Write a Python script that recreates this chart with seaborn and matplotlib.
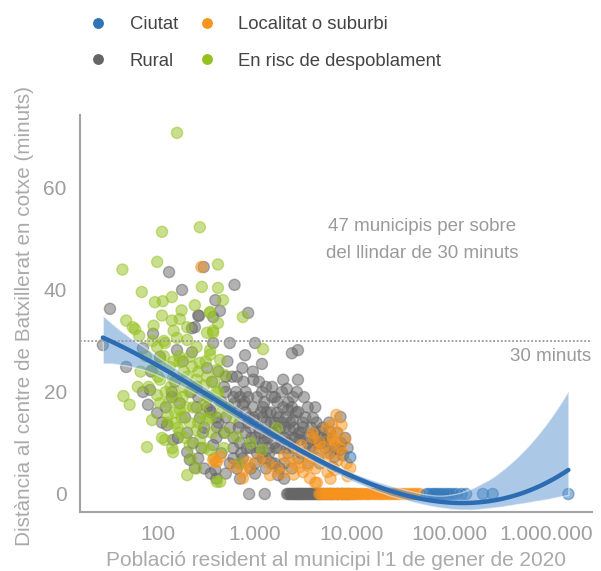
import numpy as np
import pandas as pd
import matplotlib.pyplot as plt
import seaborn as sns
from matplotlib.lines import Line2D

# --- Data: population (1 Jan 2020) and minutes by car ---
rural_pop = [32, 130, 177, 615, 296, 390, 435, 265, 850, 89,
             224, 27, 47, 550, 1000, 2400, 2770, 790, 1180, 740,
             1950, 2770, 1500, 2130, 2460, 4180, 1500, 960, 7600, 70,
             260, 240, 105, 157, 224, 370, 370, 83, 139, 250,
             320, 79, 98, 124, 139, 168, 143, 200, 240, 213,
             290, 370, 270, 344, 405, 390, 3960, 5900, 4650, 2190,
             2460, 3130, 2770, 1680, 1210, 750, 620, 960, 2300, 2900,
             5900, 7400, 8100, 6600, 6300, 4650, 1730, 450, 500, 550,
             600, 650, 700, 800, 850, 900, 1000, 1100, 1200, 1300,
             1400, 1500, 1600, 1800, 2000, 2200, 2500, 2800, 3000, 3500,
             4000, 4500, 5000, 5500, 400, 450, 500, 550, 600, 650,
             700, 750, 800, 900, 1000, 1100, 1200, 1300, 1400, 1600,
             1800, 2000, 2200, 2500, 3000, 3500, 4000, 300, 330, 360,
             420, 480, 520, 580, 640, 700, 760, 820, 880, 950,
             1050, 1150, 1250, 1350, 1450, 1700, 1900, 2100, 2400, 2600,
             3300, 3800, 4300, 5000, 6000, 7000, 8500, 9000,
             110, 150, 180, 120, 200, 220, 250, 280, 85, 70,
             160, 190, 230, 260, 300, 350, 400, 500, 700, 1000,
             1300, 1600, 2000, 2400, 870, 1260, 2140, 2300, 2450, 2600,
             2750, 2900, 3050, 3200, 3400, 3600, 3800, 4000, 4300, 4600,
             5000, 5500, 6000, 6500, 7200, 8000, 9000, 10500,
             350, 420, 480, 530, 600, 680, 720, 780, 850, 920,
             980, 1050, 1120, 1180, 1250, 1320, 1380, 1450, 1550, 1650,
             1750, 1850, 1950, 2050, 2150, 2300, 2450, 2650, 2850, 3100,
             3400, 3700, 4100, 4500, 4900, 5300, 2200, 1900, 1600, 1300,
             1100, 950, 800, 650, 500, 400, 320, 260, 3200, 2700,
             3500, 5800, 6800, 7700, 1200, 1500, 1800, 900, 700, 600,
             2200, 2350, 2500, 2650, 2800, 2950, 3100, 3300, 3500, 3700,
             3900, 4200, 4500, 4800, 5200, 5700, 6200, 7000, 7800, 8500, 9500]
rural_min = [36.3, 43.5, 40, 41, 44.5, 38, 35.9, 34.9, 35.5, 31.4,
             32.5, 29.2, 24.9, 29.6, 29.6, 27.6, 28.2, 27.2, 25.5, 24.7,
             22.4, 22.4, 21, 20.6, 19, 17, 19, 22.4, 15.1, 28.6,
             35, 32.7, 26.9, 28.2, 27.8, 29.6, 34.7, 20.4, 20, 21,
             24.7, 17.5, 15.9, 13.5, 19, 17.8, 10.6, 8.2, 5.1, 6.7,
             12, 9.6, 14.9, 16.5, 13.1, 4.7, 14.9, 12.2, 12.2, 16.5,
             14.5, 13.1, 16.1, 15.9, 17, 17.5, 17.8, 14.5, 12.5, 10.6,
             8, 8.6, 7.6, 7.3, 5.3, 6, 3.7, 18, 15, 13,
             11, 16, 14, 12, 19, 9, 11, 13, 10, 14,
             8, 12, 10, 9, 11, 8, 9, 7, 12, 10,
             9, 7, 10, 11, 11, 8, 20, 6, 9, 5,
             10, 7, 16, 13, 6, 9, 15, 7, 12, 14,
             13, 6, 10, 13, 8, 6, 11, 13, 19, 22,
             24, 21, 26, 23, 20, 19, 22, 9, 15, 17,
             19, 16, 18, 11, 16, 18, 14, 15, 17, 11,
             15, 13, 14, 13, 10, 12, 11, 9,
             14, 22, 26, 17, 12, 20, 17, 9, 24, 20,
             11, 15, 10, 7, 5, 4, 3, 4, 3, 4,
             5, 6, 3, 5, 0, 0, 0, 0, 0, 0,
             0, 0, 0, 0, 0, 0, 0, 0, 0, 0,
             0, 0, 0, 0, 0, 0, 0, 0,
             16, 14, 12, 17, 19, 13, 8, 18, 14, 11,
             15, 8, 12, 20, 11, 16, 9, 14, 12, 9,
             15, 11, 17, 13, 9, 14, 11, 16, 12, 14,
             11, 9, 12, 10, 11, 9, 18, 20, 19, 21,
             22, 24, 20, 23, 23, 15, 17, 19, 19, 20,
             17, 14, 9, 10, 7, 6, 5, 5, 6, 7,
             0, 0, 0, 0, 0, 0, 0, 0, 0, 0,
             0, 0, 0, 0, 0, 0, 0, 0, 0, 0, 0]

risc_pop = [157, 110, 270, 43, 98, 415, 283, 415, 68, 93,
            112, 139, 468, 47, 168, 344, 415, 750, 55, 1210,
            58, 64, 110, 139, 200, 98, 118, 157, 200, 250,
            320, 370, 105, 132, 168, 213, 270, 344, 87, 105,
            143, 181, 250, 320, 405, 62, 44, 51, 77, 87,
            118, 200, 405, 98, 105, 150, 168, 213, 143, 250,
            320, 126, 168, 213, 270, 344, 650, 1180, 1680, 437,
            344, 437, 490, 300, 75, 80,
            120, 130, 150, 180, 200, 230, 260, 300, 350, 400,
            450, 500, 600, 110, 140, 160, 190, 220, 250,
            300, 380, 480, 700, 900, 344, 370, 380, 420,
            66, 88, 100, 115, 125, 135, 145,
            155, 165, 175, 185, 195, 210, 225, 240, 260, 280,
            310, 330, 360, 430, 520, 145, 175, 115, 90, 240]
risc_min = [70.8, 51.4, 52.3, 44, 45.5, 45, 40.6, 40.4, 39.6, 37.6,
            37.8, 38.6, 38, 34, 34.3, 35.7, 33.5, 34.7, 32.7, 28.4,
            32.3, 31, 35, 34, 32.7, 28.8, 29.6, 30.6, 30.2, 28.8,
            31.6, 32, 26.3, 24.9, 25.9, 26.9, 25.7, 27.3, 24.3, 22.4,
            22.7, 21, 22.4, 23, 24.3, 21, 19.2, 17.5, 9.2, 14.5,
            10.6, 3.7, 2.4, 19.4, 17.8, 13.9, 12, 9.6, 8.2, 12.5,
            14.5, 15.5, 16.5, 13.9, 10.6, 8.6, 11.2, 8.6, 12.9, 2.4,
            28.2, 26.3, 23.3, 21.3, 27, 21,
            20, 18, 16, 19, 23, 17, 14, 18, 15, 20,
            16, 12, 15, 11, 9, 13, 11, 7, 5,
            9, 7, 9, 6, 10, 35.5, 31.6, 22, 20,
            24, 30, 23, 27, 14, 21, 26,
            19, 27, 15, 24, 17, 20, 25, 21, 24, 16,
            26, 19, 12, 18, 17, 32, 36, 30, 33, 37]

loc_pop = [280, 390, 370, 750, 890, 1360, 1680, 2300, 2900, 3130,
           3680, 4350, 5000, 5200, 6300, 7100, 6900, 5600, 9600, 3680,
           4350, 437, 830, 1430, 750, 2700, 4650, 405, 6300, 6600,
           4180, 8500, 7800, 5500, 4000, 3000, 2000, 1100, 600, 6600,
           3500, 2500, 6000, 7000, 8000, 4600, 5000, 5500, 6000, 6600,
           7200, 7800, 8500, 9200, 10000, 11000, 12000, 13000, 14500, 16000,
           18000, 20000, 22000, 25000, 28000, 32000, 36000, 42000, 50000,
           3300, 4200, 5800, 7500, 8800, 2600, 1900, 3900, 6200, 9000,
           4800, 5300, 5800, 6300, 7000, 7500, 8200, 9000, 9800, 10500,
           11500, 12500, 14000, 15000, 17000, 19000, 21000, 24000, 27000, 30000,
           34000, 39000, 44000, 47000]
loc_min = [44.5, 6.3, 6.7, 4.3, 5.1, 6.1, 5.1, 6.3, 5.3, 4.3,
           7.1, 8.6, 9.2, 6.7, 10.6, 12, 15.5, 4.3, 5.1, 3.1,
           2.2, 7.3, 6.3, 3.7, 3.1, 8.6, 10.2, 6.3, 11.2, 10,
           2.2, 10.6, 13.5, 13, 11, 9.5, 7.5, 6.8, 5.5, 4.7,
           5.5, 3.8, 3, 6.5, 8, 0, 0, 0, 0, 0,
           0, 0, 0, 0, 0, 0, 0, 0, 0, 0,
           0, 0, 0, 0, 0, 0, 0, 0, 0,
           7.5, 5, 8, 9, 6, 6, 4, 12, 13.5, 3.5,
           0, 0, 0, 0, 0, 0, 0, 0, 0, 0,
           0, 0, 0, 0, 0, 0, 0, 0, 0, 0,
           0, 0, 0, 0]

ciutat_pop = [9600, 59000, 63000, 68000, 72000, 77000, 82000, 88000, 95000,
              102000, 110000, 120000, 135000, 150000, 224000, 282000, 1700000]
ciutat_min = [7.2, 0, 0, 0, 0, 0, 0, 0, 0,
              0, 0, 0, 0, 0, 0, 0, 0]

colors = {"Ciutat": "#2e75b6", "Localitat o suburbi": "#f7941d",
          "Rural": "#666666", "En risc de despoblament": "#95c11f"}
legend_order = ["Ciutat", "Rural", "Localitat o suburbi", "En risc de despoblament"]

x_ticks = [2, 3, 4, 5, 6]
x_tick_labels = ["100", "1.000", "10.000", "100.000", "1.000.000"]
y_ticks = [0, 20, 40, 60]
threshold = 30

# drawing order: rural, at-risk, towns, cities
df = pd.concat([
    pd.DataFrame({"pop": rural_pop, "minuts": rural_min, "tipus": "Rural"}),
    pd.DataFrame({"pop": risc_pop, "minuts": risc_min, "tipus": "En risc de despoblament"}),
    pd.DataFrame({"pop": loc_pop, "minuts": loc_min, "tipus": "Localitat o suburbi"}),
    pd.DataFrame({"pop": ciutat_pop, "minuts": ciutat_min, "tipus": "Ciutat"}),
], ignore_index=True)
df["log_pop"] = np.log10(df["pop"])

sns.set_style("white")
plt.rcParams['font.family'] = ['Liberation Sans', 'DejaVu Sans']

fig = plt.figure(figsize=(6.01, 5.71), dpi=100)
ax = fig.add_axes([80 / 601, 1 - 512 / 571, 512 / 601, 397 / 571])

sns.scatterplot(data=df, x="log_pop", y="minuts", hue="tipus", palette=colors,
                s=64, alpha=0.5, edgecolor="face", linewidth=1.0, legend=False, ax=ax)

# smooth trend with confidence band
sns.regplot(data=df, x="log_pop", y="minuts", order=3, scatter=False, ci=95,
            n_boot=500, seed=1, color="#2b6cb3", line_kws={"lw": 3.2}, ax=ax)
band = ax.collections[-1]
band.set_facecolor("#5a92d0")
band.set_alpha(0.5)

ax.axhline(threshold, color="#999999", lw=1.3, ls=(0, (1, 1.1)), zorder=1)
ax.text(6.46, 27.0, "30 minuts", ha="right", va="center", color="#9a9a9a", fontsize=13.5)
ax.text(4.72, 49.8, "47 municipis per sobre\ndel llindar de 30 minuts", ha="center",
        va="center", color="#9a9a9a", fontsize=13.5, linespacing=1.75)

ax.set_xlim(1.196, 6.474)
ax.set_ylim(-3.53, 74.3)
ax.set_xticks(x_ticks)
ax.set_xticklabels(x_tick_labels)
ax.set_yticks(y_ticks)
ax.tick_params(colors="#a3a3a3", labelcolor="#9e9e9e", labelsize=15, length=4.5, width=1.3, pad=5)
for side in ["top", "right"]:
    ax.spines[side].set_visible(False)
for side in ["left", "bottom"]:
    ax.spines[side].set_color("#a3a3a3")
    ax.spines[side].set_linewidth(1.5)

ax.set_xlabel("Població resident al municipi l'1 de gener de 2020", fontsize=15,
              color="#aaaaaa", labelpad=5)
ax.set_ylabel("")
fig.text(25 / 601, 1 - 316 / 571, "Distància al centre de Batxillerat en cotxe (minuts)",
         rotation=90, ha="center", va="center", fontsize=14.9, color="#aaaaaa")

handles = [Line2D([], [], marker="o", ls="", color=colors[c], markersize=6.8) for c in legend_order]
leg = fig.legend(handles, legend_order, ncol=2, loc="upper left", bbox_to_anchor=(89 / 601, 1 - 16 / 571),
                 frameon=False, fontsize=13.3, handlelength=1, handletextpad=1.2,
                 columnspacing=1.05, labelspacing=1.06, borderpad=0, borderaxespad=0)
for t in leg.get_texts():
    t.set_color("#444444")

plt.savefig("out.png", dpi=100)
print("Generated: out.png")
